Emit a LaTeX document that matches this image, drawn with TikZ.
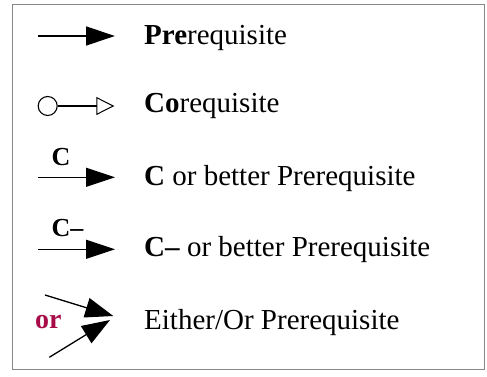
\documentclass[tikz,border=0pt]{standalone}
\usepackage{fontspec}
\setmainfont{Liberation Serif}
\usetikzlibrary{arrows.meta}
\definecolor{orred}{RGB}{168,12,72}
\definecolor{framegray}{RGB}{136,136,136}
\tikzset{
  legtext/.style={anchor=base west, inner sep=0pt, font=\fontsize{29}{33}\selectfont},
  arlabel/.style={anchor=base west, inner sep=0pt, font=\fontsize{26}{30}\selectfont\bfseries},
  prereq/.style={line width=1.3pt, -{Triangle[length=29pt,width=19pt]}},
  coreq/.style={line width=1.2pt, -{Triangle[open,length=18pt,width=18pt,line width=1pt]}},
}
\begin{document}
\begin{tikzpicture}[x=1pt,y=-1pt]
\useasboundingbox (0,0) rectangle (487,377);
\draw[framegray, line width=1.4pt] (12.7,4.3) rectangle (484.7,369.3);

% Prerequisite
\coordinate (p1) at (38,36);
\coordinate (p2) at (115,36);
\draw[prereq] (p1) -- (p2);
\node[legtext] (t1) at (144,45) {\textbf{Pre}requisite};

% Corequisite
\node[draw, circle, line width=1.1pt, minimum size=19pt, inner sep=0pt] (c0) at (47.7,106) {};
\coordinate (c2) at (114.3,106);
\draw[coreq] (c0.east) -- (c2);
\node[legtext] (t2) at (144,113) {\textbf{Co}requisite};

% C or better
\coordinate (q1) at (38,177.3);
\coordinate (q2) at (115,177.3);
\draw[prereq] (q1) -- (q2);
\node[arlabel] (l3) at (51.5,165) {C};
\node[legtext] (t3) at (144,185) {\textbf{C} or better Prerequisite};

% C- or better
\coordinate (r1) at (38,249.3);
\coordinate (r2) at (115,249.3);
\draw[prereq] (r1) -- (r2);
\node[arlabel] (l4) at (51.5,236.7) {C–};
\node[legtext] (t4) at (144,256) {\textbf{C–} or better Prerequisite};

% Either/Or
\coordinate (e1) at (45,295);
\coordinate (e2) at (113.3,316);
\coordinate (f1) at (49.3,357.3);
\coordinate (f2) at (110,320);
\draw[line width=1.3pt, -{Triangle[length=28pt,width=20pt]}] (e1) -- (e2);
\draw[line width=1.3pt, -{Triangle[length=28pt,width=20pt]}] (f1) -- (f2);
\node[anchor=base west, inner sep=0pt, font=\fontsize{28}{32}\selectfont\bfseries, text=orred] (l5) at (35,328) {or};
\node[legtext] (t5) at (144,329) {Either/Or Prerequisite};
\end{tikzpicture}
\end{document}
